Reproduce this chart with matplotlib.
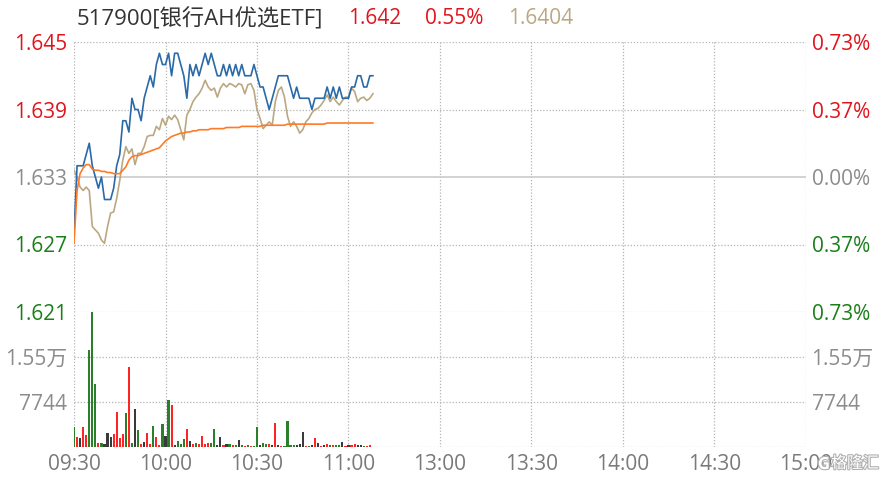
import matplotlib
matplotlib.use("Agg")
import matplotlib.pyplot as plt
import matplotlib.patheffects as pe
import numpy as np

plt.rcParams['font.family'] = ['Open Sans', 'Noto Sans CJK SC', 'DejaVu Sans']

# ---------------- data ----------------
prev_close = 1.633
price_ticks = [1.621, 1.627, 1.633, 1.639, 1.645]
price_labels = ["1.621", "1.627", "1.633", "1.639", "1.645"]
pct_labels = ["0.73%", "0.37%", "0.00%", "0.37%", "0.73%"]
vol_ticks = [7744, 15488]
vol_labels = ["7744", "1.55万"]
time_ticks = [0, 30, 60, 90, 120, 150, 180, 210, 240]
time_labels = ["09:30", "10:00", "10:30", "11:00", "13:00", "13:30", "14:00", "14:30", "15:00"]

price = [1.628, 1.634, 1.634, 1.634, 1.635, 1.636, 1.634, 1.633, 1.632, 1.633,
         1.631, 1.631, 1.631, 1.632, 1.634, 1.635, 1.638, 1.638, 1.637, 1.640,
         1.639, 1.639, 1.638, 1.640, 1.641, 1.642, 1.641, 1.643, 1.644, 1.643,
         1.643, 1.644, 1.642, 1.644, 1.644, 1.643, 1.642, 1.640, 1.643, 1.642,
         1.643, 1.642, 1.643, 1.644, 1.643, 1.644, 1.643, 1.642, 1.642, 1.643,
         1.642, 1.643, 1.642, 1.643, 1.642, 1.643, 1.642, 1.642, 1.642, 1.643,
         1.642, 1.641, 1.641, 1.640, 1.639, 1.640, 1.641, 1.642, 1.642, 1.642,
         1.642, 1.641, 1.640, 1.641, 1.640, 1.640, 1.640, 1.640, 1.639, 1.640,
         1.640, 1.640, 1.640, 1.641, 1.640, 1.641, 1.640, 1.641, 1.640, 1.640,
         1.640, 1.641, 1.641, 1.642, 1.642, 1.641, 1.641, 1.642, 1.642]

ref_line = [1.6336, 1.6330, 1.6321, 1.6318, 1.6321, 1.6318, 1.6286, 1.6283, 1.6280, 1.6274,
            1.6271, 1.6286, 1.6298, 1.6299, 1.6311, 1.6327, 1.6345, 1.6357, 1.6351, 1.6355,
            1.6341, 1.6351, 1.6351, 1.6357, 1.6366, 1.6367, 1.6367, 1.6375, 1.6372, 1.6382,
            1.6376, 1.6384, 1.6381, 1.6385, 1.6381, 1.6372, 1.6363, 1.6385, 1.6390, 1.6397,
            1.6401, 1.6404, 1.6409, 1.6416, 1.6410, 1.6407, 1.6409, 1.6401, 1.6409, 1.6413,
            1.6410, 1.6413, 1.6412, 1.6410, 1.6413, 1.6412, 1.6404, 1.6412, 1.6413, 1.6407,
            1.6390, 1.6382, 1.6373, 1.6376, 1.6379, 1.6376, 1.6397, 1.6407, 1.6410, 1.6401,
            1.6384, 1.6375, 1.6379, 1.6375, 1.6369, 1.6372, 1.6379, 1.6382, 1.6387, 1.6390,
            1.6391, 1.6394, 1.6398, 1.6403, 1.6397, 1.6401, 1.6397, 1.6394, 1.6398, 1.6401,
            1.6401, 1.6409, 1.6406, 1.6397, 1.6400, 1.6401, 1.6398, 1.6400, 1.6404]

avg_price = [1.6271, 1.6318, 1.6333, 1.6338, 1.6341, 1.6341, 1.6337, 1.6336, 1.6336, 1.6335,
             1.6335, 1.6334, 1.6334, 1.6333, 1.6333, 1.6333, 1.6336, 1.6339, 1.6345, 1.6348,
             1.6349, 1.6349, 1.6350, 1.6351, 1.6352, 1.6353, 1.6354, 1.6355, 1.6356, 1.6359,
             1.6362, 1.6364, 1.6366, 1.6367, 1.6368, 1.6369, 1.6369, 1.6370, 1.6370, 1.6371,
             1.6371, 1.6372, 1.6372, 1.6372, 1.6372, 1.6373, 1.6373, 1.6373, 1.6373, 1.6373,
             1.6374, 1.6374, 1.6374, 1.6374, 1.6374, 1.6375, 1.6375, 1.6375, 1.6375, 1.6375,
             1.6375, 1.6375, 1.6376, 1.6376, 1.6376, 1.6376, 1.6376, 1.6376, 1.6376, 1.6376,
             1.6377, 1.6377, 1.6377, 1.6377, 1.6377, 1.6377, 1.6377, 1.6377, 1.6377, 1.6377,
             1.6377, 1.6377, 1.6377, 1.6378, 1.6378, 1.6378, 1.6378, 1.6378, 1.6378, 1.6378,
             1.6378, 1.6378, 1.6378, 1.6378, 1.6378, 1.6378, 1.6378, 1.6378, 1.6378]

volume = [3500, 1780, 1500, 3500, 2070, 16700, 23300, 10800, 750, 750,
          500, 2470, 1780, 2180, 6100, 1500, 2180, 5900, 13700, 750,
          6500, 2900, 520, 860, 2350, 520, 3600, 1780, 350, 3960,
          1900, 8100, 7200, 350, 1030, 520, 1430, 3100, 1030, 520,
          630, 520, 1950, 520, 630, 630, 3040, 350, 1660, 350,
          520, 520, 350, 350, 1200, 350, 230, 350, 230, 230,
          3390, 350, 630, 460, 520, 350, 4190, 350, 230, 230,
          4530, 350, 350, 350, 520, 2640, 230, 230, 350, 1500,
          630, 230, 350, 460, 350, 350, 350, 350, 800, 230,
          350, 350, 460, 290, 400, 230, 230, 290]
# u = up (red), d = down (green), f = flat (dark)
vol_dir = ['d', 'u', 'f', 'u', 'u', 'd', 'd', 'd', 'u', 'd',
           'f', 'f', 'f', 'u', 'u', 'u', 'u', 'd', 'u', 'd',
           'f', 'd', 'u', 'f', 'u', 'u', 'd', 'u', 'u', 'd',
           'f', 'd', 'u', 'f', 'd', 'd', 'd', 'u', 'f', 'u',
           'd', 'u', 'u', 'u', 'u', 'd', 'd', 'f', 'f', 'u',
           'f', 'd', 'u', 'd', 'f', 'd', 'u', 'd', 'u', 'd',
           'd', 'f', 'd', 'd', 'u', 'f', 'u', 'f', 'u', 'd',
           'd', 'd', 'd', 'f', 'f', 'f', 'u', 'd', 'f', 'u',
           'f', 'u', 'f', 'u', 'd', 'u', 'd', 'd', 'f', 'u',
           'f', 'u', 'u', 'f', 'f', 'd', 'u', 'u']

# ---------------- style ----------------
RED = '#e0141c'
GREEN = '#1a7f1a'
GRAY = '#8c8c8c'
GRID = '#b4b4b4'
BLUE = '#2a6aa8'
TAN = '#bba882'
ORANGE = '#ff7a26'
bar_colors = {'u': '#ff2424', 'd': '#2a7f2a', 'f': '#3a3a3a'}
FS = 15

W, H = 881, 479
fig = plt.figure(figsize=(W / 100, H / 100), dpi=100)
fig.patch.set_facecolor('white')

left, right = 74, 806
ax = fig.add_axes([left / W, 1 - 312 / H, (right - left) / W, 270 / H])
axv = fig.add_axes([left / W, 1 - 447 / H, (right - left) / W, 135 / H])

dotted = (0, (1, 1.5))
for a in (ax, axv):
    a.set_xlim(0, 240)
    for s in a.spines.values():
        s.set_visible(False)
    a.tick_params(length=0)
    for t in time_ticks:
        a.axvline(t, color=GRID, lw=0.9, ls=dotted, zorder=0)

ax.set_ylim(1.621, 1.645)
for t in price_ticks:
    if abs(t - prev_close) < 1e-9:
        ax.axhline(t, color='#cfcfcf', lw=1.3, zorder=0)
    else:
        ax.axhline(t, color=GRID, lw=0.9, ls=dotted, zorder=0)

x = np.arange(len(price))
ax.plot(x, ref_line, color=TAN, lw=1.2, zorder=3)
ax.plot(x, price, color=BLUE, lw=1.2, zorder=4)
ax.plot(np.arange(len(avg_price)), avg_price, color=ORANGE, lw=1.2, zorder=5)

ax.set_xticks([])
ax.set_yticks(price_ticks)
ax.set_yticklabels(price_labels, fontsize=FS)
lab_cols = [GREEN, GREEN, GRAY, RED, RED]
for lbl, c in zip(ax.get_yticklabels(), lab_cols):
    lbl.set_color(c)
ax.tick_params(axis='y', pad=5)

ax2 = ax.twinx()
ax2.set_ylim(ax.get_ylim())
for s in ax2.spines.values():
    s.set_visible(False)
ax2.set_yticks(price_ticks)
ax2.set_yticklabels(pct_labels, fontsize=FS)
for lbl, c in zip(ax2.get_yticklabels(), lab_cols):
    lbl.set_color(c)
ax2.tick_params(axis='y', length=0, pad=4)

# volume
axv.set_ylim(0, 23232)
for t in vol_ticks + [0]:
    axv.axhline(t, color=GRID, lw=0.9, ls=dotted, zorder=0)
xv = np.arange(len(volume))
axv.bar(xv, volume, width=0.7, color=[bar_colors[d] for d in vol_dir], zorder=3)
axv.set_yticks(vol_ticks)
axv.set_yticklabels(vol_labels, fontsize=FS, color=GRAY)
axv.tick_params(axis='y', pad=5)
axv2 = axv.twinx()
axv2.set_ylim(axv.get_ylim())
for s in axv2.spines.values():
    s.set_visible(False)
axv2.set_yticks(vol_ticks)
axv2.set_yticklabels(vol_labels, fontsize=FS, color=GRAY)
axv2.tick_params(axis='y', length=0, pad=4)

axv.set_xticks(time_ticks)
axv.set_xticklabels(time_labels, fontsize=FS, color='#7a7a7a')
axv.tick_params(axis='x', pad=5)

# title
ty = 1 - 19 / H
fig.text(77 / W, ty, "517900[银行AH优选ETF]", fontsize=16, color='#333333', va='center')
fig.text(348 / W, ty, "1.642", fontsize=FS, color=RED, va='center')
fig.text(425 / W, ty, "0.55%", fontsize=FS, color=RED, va='center')
fig.text(508 / W, ty, "1.6404", fontsize=FS, color=TAN, va='center')

# watermark
stroke = [pe.withStroke(linewidth=1.6, foreground='#b0b0b0')]
fig.text(824 / W, 1 - 464 / H, "G", fontsize=12, color='white', va='center', ha='center',
         fontweight='bold', path_effects=stroke)
fig.text(855 / W, 1 - 464 / H, "格隆汇", fontsize=11.5, color='white', va='center', ha='center',
         path_effects=stroke)

fig.savefig("out.png", dpi=100)
